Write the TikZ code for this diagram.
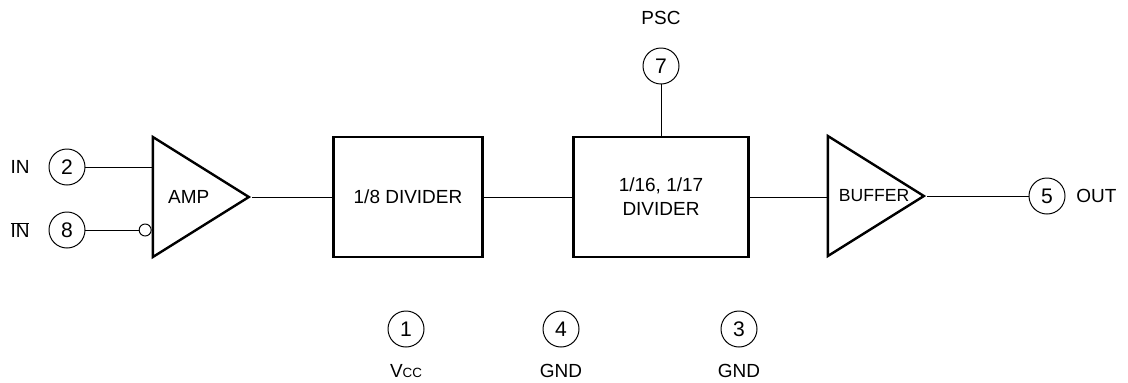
\documentclass[tikz,border=0pt]{standalone}
\usepackage{fontspec}
\setmainfont{Liberation Sans}
\usepackage{tikz}
\usetikzlibrary{positioning, shapes.geometric}
\newcommand{\TexteBloc}{\fontsize{13.5}{17}\selectfont}
\newcommand{\TexteBorne}{\fontsize{15}{17}\selectfont}
\tikzset{
  %% ── Blocks ───────────────────────────────────────────────────────────
  %% The stages of the chain: square boxes for the dividers, a stretched
  %% triangle for the two amplifiers, both with the same heavy outline.
  block/.style    = {draw=black, line width=1.7pt, minimum height=3cm,
                     align=center, inner sep=2pt, font=\TexteBloc},
  %% the triangle reads its sizes before rotation: width is the base
  blockTri/.style = {block, isosceles triangle, isosceles triangle stretches,
                     minimum width=3cm, minimum height=2.4cm, inner sep=0pt,
                     anchor=apex},
  %%
  %% ── Pins ─────────────────────────────────────────────────────────────
  borne/.style    = {circle, draw=black, line width=0.7pt, minimum size=0.9cm,
                     inner sep=0pt, font=\TexteBorne},
  bulle/.style    = {circle, draw=black, line width=0.7pt, minimum size=0.3cm,
                     inner sep=0pt},
  %%
  %% ── Wires and text ───────────────────────────────────────────────────
  wire/.style     = {draw=black, line width=0.7pt},
  tag/.style      = {inner sep=0pt, font=\TexteBloc},
}

\begin{document}
\begin{tikzpicture}[x=0.025cm, y=-0.025cm]
\useasboundingbox (0,0) rectangle (1128,382);

% input side
\node[tag] (inTxt) at (20,167) {IN};
\node[tag] (inBarTxt) at (20,230) {$\overline{\mbox{IN}}$};
\node[borne] (p2) at (67,167) {2};
\node[borne] (p8) at (67,230) {8};
\node[blockTri] (amp) at (252,197) {AMP};
\node[bulle, anchor=east] (inv) at (amp.west |- p8) {};

% divider chain
\node[block, minimum width=3.725cm] (div1) at (408,197) {1/8 DIVIDER};
\node[block, minimum width=4.375cm] (div2) at (661,197) {1/16, 1/17\\DIVIDER};
\node[borne] (p7) at (661,66) {7};
\node[tag] (pscTxt) at (661,18) {PSC};

% output side
\node[blockTri, font=\fontsize{12.5}{15}\selectfont] (buf) at (927,196)
     {\hspace{6pt}BUFFER};
\node[borne] (p5) at (1047,196) {5};
\node[tag, anchor=west] (outTxt) at (1076,196) {OUT};

% supply pins
\node[borne] (p1) at (406,329) {1};
\node[borne] (p4) at (561,329) {4};
\node[borne] (p3) at (739,329) {3};
\node[tag] (vccTxt) at (406,371) {V{\fontsize{9.5}{10}\selectfont CC}};
\node[tag] (gnd4Txt) at (561,371) {GND};
\node[tag] (gnd3Txt) at (739,371) {GND};

\draw[wire] (p2) -- (p2 -| amp.west);
\draw[wire] (p8) -- (inv);
\draw[wire] (amp.apex) -- (div1);
\draw[wire] (div1) -- (div2);
\draw[wire] (div2) -- (div2 -| buf.west);
\draw[wire] (buf.apex) -- (p5);
\draw[wire] (p7) -- (div2);

\end{tikzpicture}
\end{document}
